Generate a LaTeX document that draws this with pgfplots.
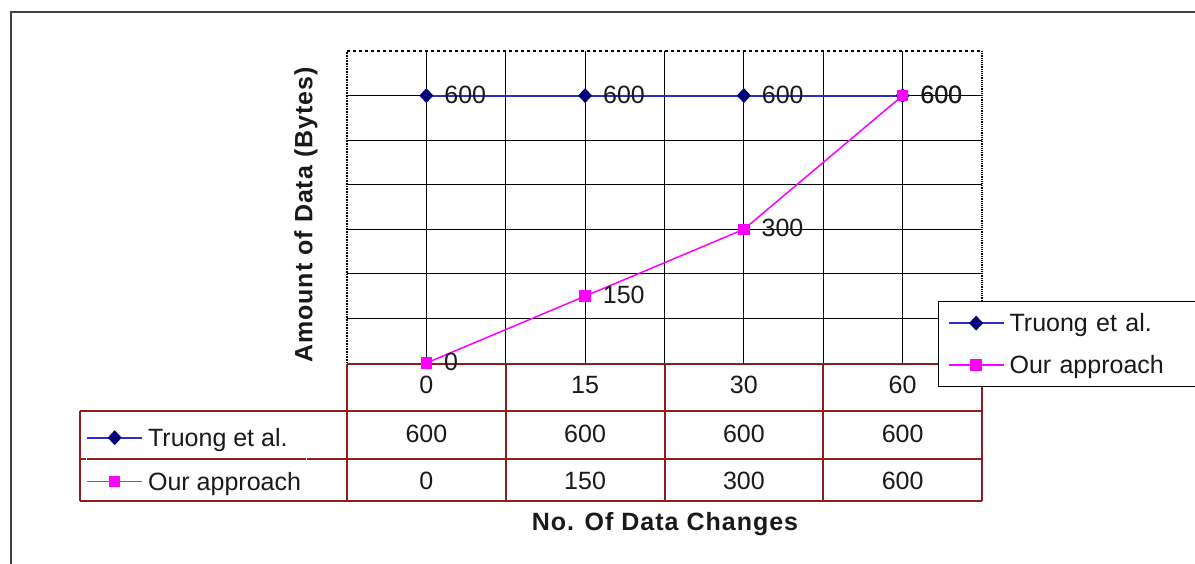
\documentclass[border=0pt]{standalone}
\usepackage{fontspec}
\setmainfont{Liberation Sans}
\newfontfamily\spaced[LetterSpace=4]{Liberation Sans}
\usepackage{pgfplots}
\pgfplotsset{compat=1.18}

\definecolor{navyline}{RGB}{45,45,200}
\definecolor{navymark}{RGB}{0,0,120}
\definecolor{pinkline}{RGB}{255,0,255}
\definecolor{tabred}{RGB}{140,30,30}
\definecolor{txt}{RGB}{25,25,25}
\newcommand\fs{\fontsize{25}{30}\selectfont}

\pgfplotsset{
  truong/.style={color=navyline, line width=2pt, mark=diamond*, mark size=6pt,
    mark options={fill=navymark, draw=navymark, xscale=1.25}},
  ours/.style={color=pinkline, line width=1.5pt, mark=square*, mark size=5pt,
    mark options={fill=pinkline, draw=pinkline}},
  legend image code/.code={\draw[mark repeat=2,mark phase=2,#1]
    plot coordinates {(0pt,0pt) (27.5pt,0pt) (55pt,0pt)};},
}

\begin{document}
\begin{tikzpicture}[x=1pt,y=1pt]
% outer frame (right and bottom edges are off the page)
\draw[line width=2pt, black!75] (11,-20) -- (11,551) -- (1230,551);

% data table grid
\begin{scope}[tabred, line width=1.5pt]
  \draw (347,199) -- (982,199);
  \draw (80,152) -- (982,152);
  \draw (80,104) -- (982,104);
  \draw (80,62) -- (982,62);
  \draw (80,152) -- (80,62);
  \foreach \x in {347,506,665,823,982} \draw (\x,199) -- (\x,62);
\end{scope}

% table values
\foreach \x/\a/\b in {426.4/600/0, 585.1/600/150, 743.9/600/300, 902.6/600/600} {
  \node[font=\fs, text=txt] at (\x,129) {\a};
  \node[font=\fs, text=txt] at (\x,82) {\b};
}

\begin{axis}[
  set layers, axis on top=false,
  at={(347pt,200pt)}, anchor=south west,
  width=635pt, height=312pt, scale only axis,
  xmin=0, xmax=4, ymin=0, ymax=700,
  xtick={0.5,1.5,2.5,3.5}, xticklabels={0,15,30,60},
  extra x ticks={1,2,3}, extra x tick labels={},
  extra x tick style={grid=major},
  ytick={100,200,...,500}, yticklabels={},
  grid=major, major grid style={black, line width=1.2pt},
  major tick length=0pt,
  axis line style={draw=none},
  xticklabel style={font=\fs, text=txt, anchor=center, yshift=-22pt},
  /pgf/number format/assume math mode=true,
  clip=false,
  legend style={at={(0.9307,0.1987)}, anchor=north west, draw=black, line width=1.2pt,
    fill=white, font=\fs, text=txt, inner xsep=9pt, inner ysep=7pt, row sep=13pt,
    nodes={text height=21pt, text depth=4pt, inner ysep=2pt, inner xsep=5pt,
      text width=200pt, align=left}},
  legend cell align=left,
  every node near coord/.style={font=\fs, text=txt, anchor=west, inner sep=1pt,
    xshift=16pt, yshift=1pt},
]
% the 600 gridline shows only outside the Truong line
\draw[black, line width=1.2pt] (axis cs:0,600) -- (axis cs:0.5,600);
\draw[black, line width=1.2pt] (axis cs:3.5,600) -- (axis cs:4,600);
\addplot[truong, nodes near coords] coordinates {(0.5,600) (1.5,600) (2.5,600) (3.5,600)};
\addlegendentry{Truong et al.}
\addplot[ours, nodes near coords] coordinates {(0.5,0) (1.5,150) (2.5,300) (3.5,600)};
\addlegendentry{Our approach}
\draw[black, line width=1.2pt, dashed] (rel axis cs:0,1) -- (rel axis cs:1,1);
\draw[black, line width=1.2pt, densely dotted] (rel axis cs:1,1) -- (rel axis cs:1,0);
\draw[black, line width=1.6pt, dash pattern=on 1pt off 0.6pt] (rel axis cs:0,0) -- (rel axis cs:0,1);
\end{axis}

% legend keys in the first column of the data table
\begin{axis}[
  at={(347pt,200pt)}, anchor=south west,
  width=635pt, height=312pt, scale only axis,
  hide axis, xmin=0, xmax=4, ymin=0, ymax=700,
  legend style={at={(-0.4111,-0.1923)}, anchor=north west, draw=white, fill=none,
    font=\fs, text=txt, inner sep=0pt, row sep=15pt,
    nodes={text height=21pt, text depth=4pt, inner ysep=2pt, inner xsep=5pt}},
  legend cell align=left,
]
\addlegendimage{/pgfplots/truong}\addlegendentry{Truong et al.}
\addlegendimage{/pgfplots/ours}\addlegendentry{Our approach}
\end{axis}

% axis titles
\node[font=\fs\spaced\bfseries, text=txt] at (665,39) {No. Of Data Changes};
\node[font=\fs\spaced\bfseries, text=txt, rotate=90] at (306,348) {Amount of Data (Bytes)};

\pgfresetboundingbox
\path (0,0) rectangle (1195,563);
\end{tikzpicture}
\end{document}
